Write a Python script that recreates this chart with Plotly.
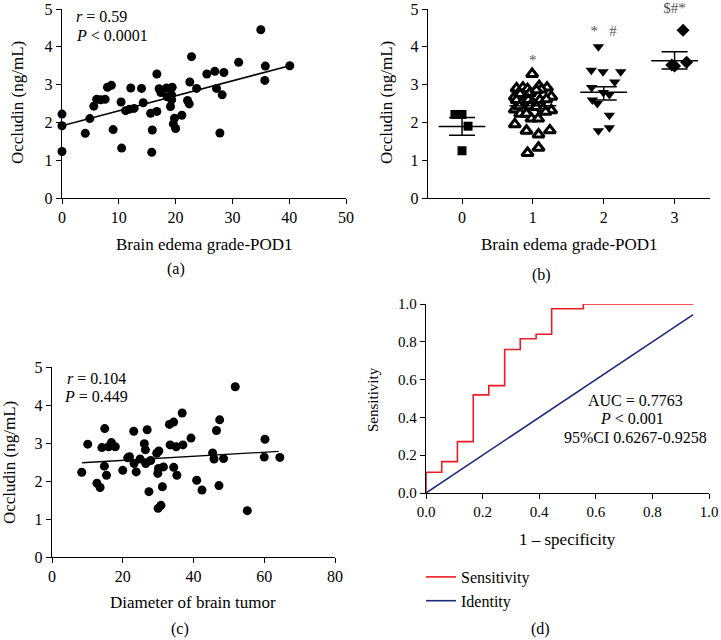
import plotly.graph_objects as go

F = "Liberation Serif"
W, H = 721, 640

# ---------------- data ----------------
# Panel (a): brain edema grade-POD1 vs occludin
a_x = [0, 0, 0, 4.1, 4.9, 5.6, 6.1, 6.8, 7.6, 8.0, 8.7, 9.0, 10.4, 10.5, 11.2, 11.9, 12.1, 12.7,
       14.0, 14.3, 15.6, 15.8, 15.9, 16.7, 16.7, 17.1, 17.4, 18.4, 18.5, 19.4, 19.3, 19.3, 19.1,
       19.6, 19.8, 20.0, 21.1, 22.1, 22.4, 22.5, 22.8, 23.7, 25.5, 26.9, 27.2, 27.8, 28.2, 28.5,
       31.1, 35.0, 35.7, 35.8, 40.1]
a_y = [2.22, 1.91, 1.23, 1.71, 2.10, 2.43, 2.61, 2.60, 2.61, 2.93, 2.98, 1.81, 2.54, 1.32, 2.31,
       2.35, 2.91, 2.37, 2.90, 2.52, 2.24, 1.21, 1.80, 3.28, 2.29, 2.89, 2.79, 2.91, 2.68, 2.93,
       2.73, 2.60, 2.42, 1.96, 2.11, 1.84, 2.19, 2.58, 2.49, 3.07, 3.74, 2.90, 3.28, 3.35, 2.90,
       1.72, 2.73, 3.32, 3.59, 4.45, 3.11, 3.49, 3.50]
a_fit_x = [0, 40.1]
a_fit_y = [1.91, 3.50]

# Panel (b): grouped scatter by grade
b_groups = [0, 1, 2, 3]
b_g0_y = [2.21, 2.21, 1.90, 1.25]
b_g0_dx = [-0.10, 0.0, 0.085, 0.0]
b_g1_y = [3.28, 2.90, 2.92, 2.88, 2.96, 2.92, 2.87, 2.68, 2.75, 2.78, 2.85, 2.68, 2.59, 2.54,
          2.59, 2.50, 2.59, 2.61, 2.34, 2.43, 2.32, 2.43, 2.41, 2.36, 2.32, 2.23, 2.23, 2.28,
          2.10, 2.10, 1.95, 1.78, 1.68, 1.79, 1.19, 1.33]
b_g1_dx = [-0.01, -0.23, -0.14, -0.075, 0.09, 0.20, 0.12, -0.255, -0.18, -0.04, 0.05, 0.26,
           -0.23, -0.14, -0.065, 0.005, 0.10, 0.19, -0.255, -0.19, -0.12, -0.04, 0.05, 0.145,
           0.26, -0.18, -0.09, 0.18, -0.02, 0.075, -0.255, -0.09, 0.08, 0.24, -0.075, 0.08]
b_g2_y = [4.00, 3.38, 3.34, 3.34, 3.07, 2.92, 2.79, 2.74, 2.59, 2.50, 2.19, 1.78, 1.86]
b_g2_dx = [-0.075, -0.175, -0.01, 0.24, 0.155, -0.17, -0.005, 0.08, -0.16, -0.09, 0.08, -0.075, 0.08]
b_g3_y = [4.44, 3.52, 3.49, 3.59]
b_g3_dx = [0.12, -0.04, 0.0, 0.17]
b_mean = [1.89, 2.44, 2.80, 3.63]
b_sem_hi = [2.13, 2.52, 2.94, 3.87]
b_sem_lo = [1.66, 2.36, 2.59, 3.41]
b_marks = ["*", "*   #", "$#*"]
b_mark_group = [1, 2, 3]
b_mark_y = [3.62, 4.38, 4.99]

# Panel (c): diameter of brain tumor vs occludin
c_x = [8.4, 10.1, 12.7, 13.6, 14.1, 14.9, 14.8, 15.4, 16.0, 16.8, 17.9, 20.0, 21.4, 21.9, 23.1,
       23.2, 23.8, 24.9, 26.1, 26.4, 26.5, 26.9, 27.4, 27.9, 29.6, 29.9, 30.2, 30.1, 30.0, 30.8,
       31.2, 31.5, 33.2, 33.4, 34.4, 34.4, 35.1, 35.3, 36.8, 37.0, 39.3, 40.9, 42.4, 45.4, 45.8,
       46.5, 47.4, 47.2, 48.5, 51.8, 55.2, 60.0, 60.2, 64.4]
c_y = [2.23, 2.97, 1.94, 1.83, 2.88, 3.38, 2.39, 2.15, 2.90, 3.01, 2.90, 2.28, 2.61, 2.64, 3.31,
       2.46, 2.24, 2.58, 2.98, 2.82, 2.46, 3.35, 1.72, 2.54, 2.73, 2.20, 2.79, 2.33, 1.28, 1.36,
       1.85, 2.37, 3.49, 2.95, 3.55, 2.36, 2.90, 2.15, 3.79, 2.95, 3.13, 2.02, 1.76, 2.74, 2.58,
       3.33, 3.61, 1.88, 2.59, 4.48, 1.22, 2.63, 3.10, 2.62]
c_fit_x = [8.5, 64.1]
c_fit_y = [2.48, 2.78]

# Panel (d): ROC curve
d_fpr = [0, 0, 0.0556, 0.111, 0.167, 0.222, 0.278, 0.333, 0.389, 0.444, 0.556, 0.944]
d_tpr = [0, 0.11, 0.166, 0.272, 0.519, 0.568, 0.759, 0.816, 0.84, 0.975, 1.0, 1.0]
d_id = [0, 0.944]

RED = "#ec1c24"
NAVY = "#1f2a7c"

TICK = 16
TITLE = 17


def px(x):
    return x / W


def py(y):
    return 1 - y / H


def axis(**kw):
    d = dict(showline=True, linecolor="black", linewidth=1.4, ticks="outside", ticklen=5,
             tickwidth=1.4, tickcolor="black", showgrid=False, zeroline=False, automargin=False,
             ticklabeloverflow="allow",
             tickfont=dict(family=F, size=TICK, color="black"))
    d.update(kw)
    return d


fig = go.Figure()
dot = dict(color="black", size=9)

# (a)
fig.add_trace(go.Scatter(x=a_x, y=a_y, mode="markers", marker=dot, xaxis="x", yaxis="y",
                         showlegend=False, cliponaxis=False))
fig.add_trace(go.Scatter(x=a_fit_x, y=a_fit_y, mode="lines", line=dict(color="black", width=1.5),
                         xaxis="x", yaxis="y", showlegend=False))

# (b)
groups = [(b_g0_y, b_g0_dx, dict(symbol="square", color="black", size=9)),
          (b_g1_y, b_g1_dx, dict(symbol="triangle-up", color="white", size=10,
                                 line=dict(color="black", width=3))),
          (b_g2_y, b_g2_dx, dict(symbol="triangle-down", color="black", size=10)),
          (b_g3_y, b_g3_dx, dict(symbol="diamond", color="black", size=10))]
for g, (ys, dxs, mk) in zip(b_groups, groups):
    fig.add_trace(go.Scatter(x=[g + d for d in dxs], y=ys, mode="markers", marker=mk,
                             xaxis="x2", yaxis="y2", showlegend=False, cliponaxis=False))
mx, my = [], []
for g, m in zip(b_groups, b_mean):
    mx += [g - 0.33, g + 0.33, None]
    my += [m, m, None]
fig.add_trace(go.Scatter(x=mx, y=my, mode="lines", line=dict(color="black", width=1.5),
                         xaxis="x2", yaxis="y2", showlegend=False))
fig.add_trace(go.Scatter(x=b_groups, y=b_mean, mode="markers",
                         marker=dict(size=1, color="rgba(0,0,0,0)"),
                         error_y=dict(type="data", symmetric=False,
                                      array=[h - m for h, m in zip(b_sem_hi, b_mean)],
                                      arrayminus=[m - l for l, m in zip(b_sem_lo, b_mean)],
                                      color="black", thickness=1.5, width=13),
                         xaxis="x2", yaxis="y2", showlegend=False))
fig.add_trace(go.Scatter(x=b_mark_group, y=b_mark_y, mode="text", text=b_marks,
                         textfont=dict(family=F, size=15, color="#555555"),
                         xaxis="x2", yaxis="y2", showlegend=False, cliponaxis=False))

# (c)
fig.add_trace(go.Scatter(x=c_x, y=c_y, mode="markers", marker=dot, xaxis="x3", yaxis="y3",
                         showlegend=False, cliponaxis=False))
fig.add_trace(go.Scatter(x=c_fit_x, y=c_fit_y, mode="lines", line=dict(color="black", width=1.3),
                         xaxis="x3", yaxis="y3", showlegend=False))

# (d)
fig.add_trace(go.Scatter(x=d_fpr, y=d_tpr, mode="lines", line=dict(color=RED, width=1.6, shape="hv"),
                         name="Sensitivity", xaxis="x4", yaxis="y4", cliponaxis=False))
fig.add_trace(go.Scatter(x=d_id, y=d_id, mode="lines", line=dict(color=NAVY, width=1.6),
                         name="Identity", xaxis="x4", yaxis="y4", cliponaxis=False))

layout = dict(
    template="none",
    width=W, height=H, margin=dict(l=0, r=0, t=0, b=0, autoexpand=False),
    paper_bgcolor="white", plot_bgcolor="white",
    font=dict(family=F, size=15, color="black"),
    xaxis=axis(domain=[px(62), px(346)], range=[0, 50], dtick=10, anchor="y"),
    yaxis=axis(domain=[py(198), py(9)], range=[0, 5], dtick=1, anchor="x"),
    xaxis2=axis(domain=[px(428), px(710)], range=[-0.48, 3.5], tickvals=b_groups, anchor="y2"),
    yaxis2=axis(domain=[py(198), py(9)], range=[0, 5], dtick=1, anchor="x2"),
    xaxis3=axis(domain=[px(52), px(335)], range=[0, 80], dtick=20, anchor="y3"),
    yaxis3=axis(domain=[py(557), py(367)], range=[0, 5], dtick=1, anchor="x3"),
    xaxis4=axis(domain=[px(426), px(709)], range=[0, 1], dtick=0.2, tickformat=".1f", anchor="y4",
                tickfont=dict(family=F, size=15, color="black")),
    yaxis4=axis(domain=[py(493), py(304)], range=[0, 1], dtick=0.2, tickformat=".1f", anchor="x4",
                tickfont=dict(family=F, size=15, color="black")),
    showlegend=True,
    legend=dict(x=px(421), y=py(560), xanchor="left", yanchor="top",
                font=dict(family=F, size=16, color="black"), bgcolor="rgba(0,0,0,0)",
                tracegroupgap=0, itemwidth=30),
)
fig.update_layout(**layout)

ann = []


def txt(x, y, t, size=TITLE, angle=0, xanchor="center", color="black"):
    ann.append(dict(x=px(x), y=py(y), xref="paper", yref="paper", text=t, showarrow=False,
                    xanchor=xanchor, yanchor="middle", textangle=angle,
                    font=dict(family=F, size=size, color=color)))


# axis titles and panel labels
txt(18, 103, "Occludin (ng/mL)", angle=-90)
txt(387, 103, "Occludin (ng/mL)", angle=-90)
txt(9, 463, "Occludin (ng/mL)", angle=-90)
txt(373, 400, "Sensitivity", size=15, angle=-90)
txt(204, 244, "Brain edema grade-POD1")
txt(569, 244, "Brain edema grade-POD1")
txt(193, 602, "Diameter of brain tumor")
txt(567, 539, "1 – specificity")
txt(176, 269, "(a)", size=16)
txt(541, 275, "(b)", size=16)
txt(180, 629, "(c)", size=16)
txt(540, 629, "(d)", size=16)
# stats text
txt(74, 16, "<i>r</i> = 0.59", size=16, xanchor="left")
txt(74, 35, "<i>P</i> < 0.0001", size=16, xanchor="left")
txt(65, 378, "<i>r</i> = 0.104", size=16, xanchor="left")
txt(62, 396, "<i>P</i> = 0.449", size=16, xanchor="left")
txt(635, 400, "AUC = 0.7763", size=16)
txt(632, 418, "<i>P</i> < 0.001", size=16)
txt(635, 437, "95%CI 0.6267-0.9258", size=16)

fig.update_layout(annotations=ann)
fig.write_html("out.html", config={"displayModeBar": False},
               post_script="document.body.style.margin='0';document.body.style.overflow='hidden';")
